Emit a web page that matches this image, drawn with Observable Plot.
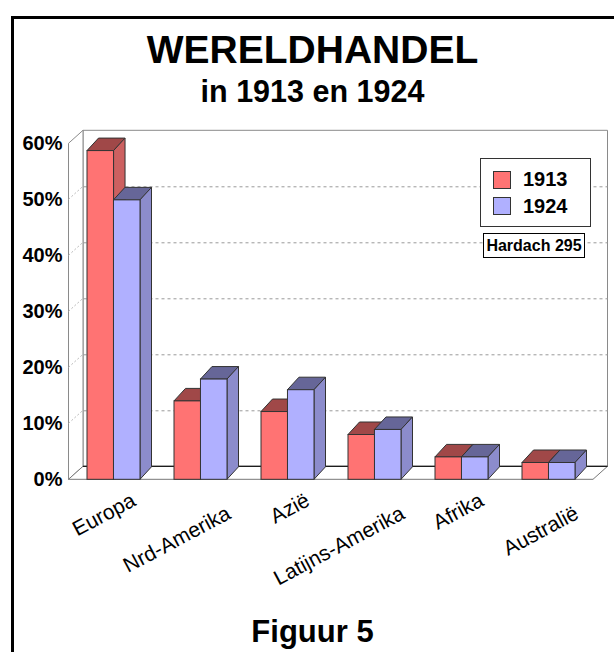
<!DOCTYPE html>
<html>
<head>
<meta charset="utf-8">
<script src="https://cdn.jsdelivr.net/npm/d3@7"></script>
<script src="https://cdn.jsdelivr.net/npm/@observablehq/plot@0.6"></script>
<style>
  html, body { margin: 0; padding: 0; background: #fff; }
  #wrap { position: relative; width: 614px; height: 652px; overflow: hidden; font-family: "Liberation Sans", Arial, sans-serif; color: #000; }
  .abs { position: absolute; }
  #frameTop { left: 11px; top: 16px; width: 603px; height: 3px; background: #000; }
  #frameLeft { left: 11px; top: 16px; width: 3px; height: 636px; background: #000; }
  #title { left: 11px; width: 603px; top: 30px; text-align: center; font-weight: bold; font-size: 39px; line-height: 39px; }
  #subtitle { left: 11px; width: 603px; top: 76px; text-align: center; font-weight: bold; font-size: 30.5px; line-height: 30px; }
  #caption { left: 11px; width: 603px; top: 616px; text-align: center; font-weight: bold; font-size: 31px; line-height: 31px; }
  #chart { left: 0; top: 120px; }
  #legend { left: 480px; top: 158px; width: 109px; height: 67px; border: 1px solid #333; background: #fff; }
  .sw { position: absolute; left: 12px; width: 16px; height: 16px; border: 1px solid #333; }
  .lt { position: absolute; left: 42px; font-weight: bold; font-size: 20px; line-height: 20px; }
  #source { left: 483px; top: 233px; width: 100px; height: 23px; border: 1px solid #000; background: #fff; text-align: center; font-weight: bold; font-size: 16px; line-height: 23px; }
</style>
</head>
<body>
<div id="wrap">
  <div id="frameTop" class="abs"></div>
  <div id="frameLeft" class="abs"></div>
  <div id="title" class="abs">WERELDHANDEL</div>
  <div id="subtitle" class="abs">in 1913 en 1924</div>
  <div id="chart" class="abs"></div>
  <div id="legend" class="abs"></div>
  <div id="source" class="abs">Hardach 295</div>
  <div id="caption" class="abs">Figuur 5</div>
</div>
<script>
// ---- data ----
const categories = ["Europa", "Nrd-Amerika", "Azië", "Latijns-Amerika", "Afrika", "Australië"];
const years = ["1913", "1924"];
const share1913 = [58.7, 14.0, 12.1, 8.0, 4.0, 3.0];
const share1924 = [49.9, 17.9, 16.0, 8.9, 4.0, 3.0];
const yTicks = [0, 10, 20, 30, 40, 50, 60];
const gridTicks = [10, 20, 30, 40, 50];

// ---- styles ----
const colors = {
  "1913": {front: "#FF7373", top: "#A04848", side: "#CC6060"},
  "1924": {front: "#B0B0FF", top: "#666698", side: "#8C8CCC"}
};
const DX = 11.5, DY = 12.5;   // bar depth (px)
const WDX = 14.5, WDY = 13;   // wall depth (px)
const W = 614, H = 480, ML = 69, MR = 21, MT = 23.3, MB = 120.7;
const PI = 0.394, PO = 0.197;
const bandwidth = d3.scaleBand(categories, [ML, W - MR]).paddingInner(PI).paddingOuter(PO).bandwidth();
const svgns = "http://www.w3.org/2000/svg";

const rows1913 = categories.map((c, i) => ({cat: c, year: years[0], value: share1913[i]}));
const rows1924 = categories.map((c, i) => ({cat: c, year: years[1], value: share1924[i]}));

function el(tag, attrs) {
  const e = document.createElementNS(svgns, tag);
  for (const k in attrs) e.setAttribute(k, attrs[k]);
  return e;
}

function bar3d(rows, year, half) {
  const c = colors[year];
  return Plot.barY(rows, {
    x: "cat", y: "value", fill: c.front, stroke: "#333", strokeWidth: 1,
    insetLeft: half === "right" ? bandwidth / 2 : 0,
    insetRight: half === "left" ? bandwidth / 2 : 0,
    render(index, scales, values, dims, ctx, next) {
      const g = next(index, scales, values, dims, ctx);
      for (const r of Array.from(g.querySelectorAll("rect"))) {
        const x = +r.getAttribute("x"), y = +r.getAttribute("y");
        const w = +r.getAttribute("width"), h = +r.getAttribute("height");
        const top = el("path", {d: `M${x},${y}L${x + DX},${y - DY}L${x + w + DX},${y - DY}L${x + w},${y}Z`, fill: c.top});
        const side = el("path", {d: `M${x + w},${y}L${x + w + DX},${y - DY}L${x + w + DX},${y + h - DY}L${x + w},${y + h}Z`, fill: c.side});
        r.parentNode.insertBefore(top, r);
        r.parentNode.insertBefore(side, r);
      }
      return g;
    }
  });
}

function walls(index, scales, values, dims) {
  const x0 = dims.marginLeft - 0.5, x1 = dims.width - dims.marginRight;
  const yb = scales.y(0), yt = scales.y(60);
  const g = el("g", {fill: "none"});
  g.appendChild(el("path", {d: `M${x0 + WDX},${yt - WDY}H${x1 + WDX}V${yb - WDY}H${x0 + WDX}Z`, fill: "#fff", stroke: "#8a8a8a"}));
  g.appendChild(el("path", {d: `M${x0},${yt}L${x0 + WDX},${yt - WDY}V${yb - WDY}L${x0},${yb}Z`, fill: "#fff", stroke: "#8a8a8a"}));
  g.appendChild(el("path", {d: `M${x0},${yb}L${x0 + WDX},${yb - WDY}H${x1 + WDX}L${x1},${yb}Z`, fill: "#fff", stroke: "#777"}));
  g.appendChild(el("path", {d: `M${x0 + WDX},${yb - WDY}H${x1 + WDX}`, stroke: "#000"}));
  for (const v of gridTicks) {
    const y = scales.y(v);
    g.appendChild(el("path", {d: `M${x0},${y}L${x0 + WDX},${y - WDY}`, stroke: "#bbb", "stroke-dasharray": "2,2"}));
  }
  return g;
}

const even = categories.filter((_, i) => i % 2 === 0);
const odd = categories.filter((_, i) => i % 2 === 1);
const labelStyle = {fontSize: 21, fill: "#000", rotate: -28, textAnchor: "end", lineAnchor: "middle", frameAnchor: "bottom"};

const chart = Plot.plot({
  width: W, height: H,
  marginLeft: ML, marginRight: MR, marginTop: MT, marginBottom: MB,
  style: {fontFamily: "'Liberation Sans', Arial, sans-serif", background: "transparent", overflow: "visible"},
  x: {type: "band", domain: categories, paddingInner: PI, paddingOuter: PO, axis: null},
  y: {domain: [0, 60], axis: null},
  marks: [
    walls,
    Plot.ruleY(gridTicks, {stroke: "#999", strokeDasharray: "3,3", dx: WDX, dy: -WDY}),
    bar3d(rows1913, "1913", "left"),
    bar3d(rows1924, "1924", "right"),
    Plot.text(yTicks, {y: d => d, text: d => d + "%", frameAnchor: "left", textAnchor: "end", dx: -7, fontSize: 20, fontWeight: "bold", fill: "#000"}),
    Plot.text(even, {x: d => d, text: d => d, dx: 20, dy: 19, ...labelStyle}),
    Plot.text(odd, {x: d => d, text: d => d, dx: 28, dy: 32, ...labelStyle})
  ]
});
document.getElementById("chart").appendChild(chart);

// legend
const legend = document.getElementById("legend");
years.forEach((yr, i) => {
  const sw = document.createElement("div");
  sw.className = "sw";
  sw.style.top = (12 + i * 26) + "px";
  sw.style.background = colors[yr].front;
  legend.appendChild(sw);
  const t = document.createElement("div");
  t.className = "lt";
  t.style.top = (10 + i * 27) + "px";
  t.textContent = yr;
  legend.appendChild(t);
});
</script>
</body>
</html>
